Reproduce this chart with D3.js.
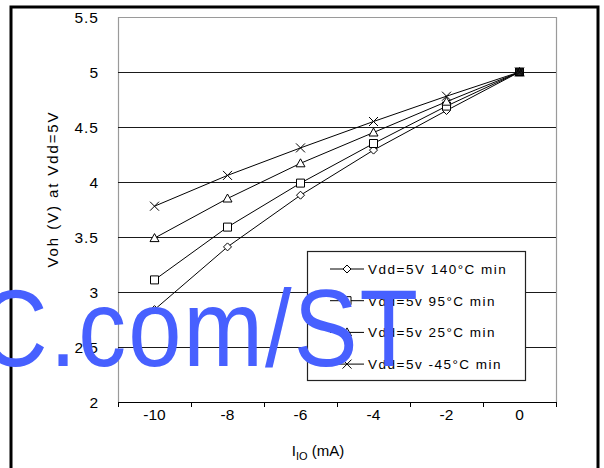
<!DOCTYPE html>
<html>
<head>
<meta charset="utf-8">
<script src="https://cdn.jsdelivr.net/npm/d3@7"></script>
<style>
  html, body { margin: 0; padding: 0; background: #fff; }
  svg { display: block; font-family: "Liberation Sans", Arial, sans-serif; }
</style>
</head>
<body>
<script>
// ---- data ----
const categories = ["-10", "-8", "-6", "-4", "-2", "0"];
const s140 = [2.84, 3.41, 3.88, 4.29, 4.65, 5.0];
const s95  = [3.11, 3.59, 3.99, 4.35, 4.69, 5.0];
const s25  = [3.49, 3.85, 4.17, 4.45, 4.73, 5.0];
const sM45 = [3.78, 4.06, 4.31, 4.55, 4.78, 5.0];
const seriesNames = ["Vdd=5V 140°C min", "Vdd=5v 95°C min", "Vdd=5v 25°C min", "Vdd=5v -45°C min"];
const seriesMarkers = ["diamond", "square", "triangle", "cross"];
const yTicks = [2, 2.5, 3, 3.5, 4, 4.5, 5, 5.5];
const yTickLabels = ["2", "2.5", "3", "3.5", "4", "4.5", "5", "5.5"];
const yTitle = "Voh (V) at Vdd=5V";
const watermark = "C.com/ST";

const series = [s140, s95, s25, sM45].map((vals, i) => ({
  name: seriesNames[i], marker: seriesMarkers[i],
  points: vals.map((v, j) => ({ c: categories[j], v }))
}));

const W = 604, H = 468;
const L = 118, R = 556, T = 17, B = 402;

const svg = d3.select("body").append("svg").attr("width", W).attr("height", H);

// outer frame
svg.append("rect").attr("x", 11).attr("y", 7).attr("width", 587).attr("height", 480)
  .attr("fill", "none").attr("stroke", "#000").attr("stroke-width", 3);

const x = d3.scaleBand().domain(categories).range([L, R]).paddingInner(0).paddingOuter(0);
const y = d3.scaleLinear().domain([2, 5.5]).range([B, T]);
const cx = c => x(c) + x.bandwidth() / 2;

// plot area border (grey)
svg.append("path")
  .attr("d", `M${L + 0.5},${B} V${T + 0.5} H${R + 0.5} V${B}`)
  .attr("fill", "none").attr("stroke", "#9a9a9a").attr("stroke-width", 1.2);

// gridlines
svg.append("g").selectAll("line").data(yTicks.filter(t => t > 2 && t < 5.5)).join("line")
  .attr("x1", L).attr("x2", R)
  .attr("y1", d => Math.round(y(d)) + 0.5).attr("y2", d => Math.round(y(d)) + 0.5)
  .attr("stroke", "#1a1a1a").attr("stroke-width", 1);

// y axis labels
const yAxis = d3.axisLeft(y).tickValues(yTicks)
  .tickFormat((d, i) => yTickLabels[i]).tickSize(0).tickPadding(19);
const gy = svg.append("g").attr("transform", `translate(${L},0)`).call(yAxis);
gy.select(".domain").remove();
gy.selectAll("text").attr("font-size", 15.5).attr("fill", "#000")
  .attr("font-family", "Liberation Sans, Arial, sans-serif")
  .style("letter-spacing", "1px").attr("dy", "0.36em");

// x axis
const xAxis = d3.axisBottom(x).tickSize(0).tickPadding(7);
const gx = svg.append("g").attr("transform", `translate(0,${B})`).call(xAxis);
gx.select(".domain").remove();
gx.selectAll("text").attr("font-size", 15.5).attr("fill", "#000")
  .attr("font-family", "Liberation Sans, Arial, sans-serif");
svg.append("line").attr("x1", L).attr("x2", R + 1).attr("y1", B + 0.5).attr("y2", B + 0.5)
  .attr("stroke", "#000").attr("stroke-width", 1.2);
const edges = categories.map(c => x(c)).concat([x(categories[categories.length - 1]) + x.bandwidth()]);
svg.append("g").selectAll("line").data(edges).join("line")
  .attr("x1", d => Math.round(d) + 0.5).attr("x2", d => Math.round(d) + 0.5)
  .attr("y1", B).attr("y2", B + 5).attr("stroke", "#000").attr("stroke-width", 1);

// axis titles
svg.append("text").attr("transform", `translate(58,189) rotate(-90)`)
  .attr("text-anchor", "middle").attr("font-size", 15).style("letter-spacing", "1.9px")
  .text(yTitle);
const xt = svg.append("text").attr("x", 318).attr("y", 456).attr("text-anchor", "middle")
  .attr("font-size", 15);
xt.append("tspan").text("I");
xt.append("tspan").attr("font-size", 11).attr("dy", 4).text("IO");
xt.append("tspan").attr("dy", -4).text(" (mA)");

// marker shapes
function markerPath(type) {
  switch (type) {
    case "diamond": return "M0,-4 L4,0 L0,4 L-4,0 Z";
    case "square": return "M-4,-4 H4 V4 H-4 Z";
    case "triangle": return "M0,-4.5 L4.5,3.5 H-4.5 Z";
    case "cross": return "M-4.5,-4.5 L4.5,4.5 M-4.5,4.5 L4.5,-4.5";
  }
}

const line = d3.line().x(d => cx(d.c)).y(d => y(d.v));
const gs = svg.append("g");
series.forEach(s => {
  gs.append("path").datum(s.points).attr("d", line)
    .attr("fill", "none").attr("stroke", "#000").attr("stroke-width", 1);
});
series.forEach(s => {
  gs.append("g").selectAll("path").data(s.points).join("path")
    .attr("transform", d => `translate(${cx(d.c)},${y(d.v)})`)
    .attr("d", markerPath(s.marker))
    .attr("fill", d => s.marker === "cross" ? "none" : (d.v >= 5 ? "#222" : "#fff"))
    .attr("stroke", "#000").attr("stroke-width", 1);
});

// legend
const lg = svg.append("g");
lg.append("rect").attr("x", 307.5).attr("y", 251.5).attr("width", 218).attr("height", 129)
  .attr("fill", "#fff").attr("stroke", "#222").attr("stroke-width", 1.2);
series.forEach((s, i) => {
  const ly = 269 + i * 31.7;
  lg.append("line").attr("x1", 330).attr("x2", 364).attr("y1", ly).attr("y2", ly)
    .attr("stroke", "#000").attr("stroke-width", 1);
  lg.append("path").attr("transform", `translate(347,${ly})`).attr("d", markerPath(s.marker))
    .attr("fill", s.marker === "cross" ? "none" : "#fff").attr("stroke", "#000");
  lg.append("text").attr("x", 368).attr("y", ly + 5).attr("font-size", 13.5)
    .style("letter-spacing", "1.5px").text(s.name);
});

// watermark
svg.append("g").attr("transform", "translate(-21.4,366) scale(0.87,1)")
  .append("text").attr("font-size", 110).attr("fill", "#4760ff")
  .style("letter-spacing", "2.3px")
  .attr("font-family", "Liberation Sans, Arial, sans-serif").text(watermark);
</script>
</body>
</html>
